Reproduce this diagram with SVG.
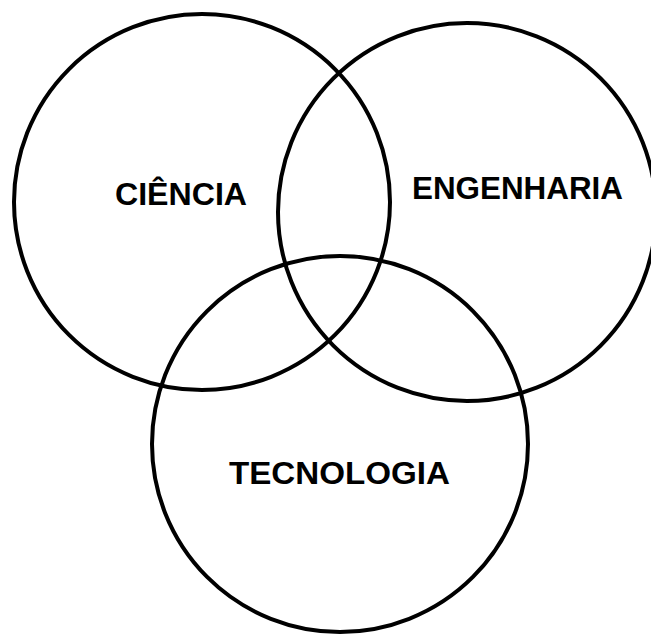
<svg xmlns="http://www.w3.org/2000/svg" width="651" height="636" viewBox="0 0 651 636">
<style>
.c{fill:none;stroke:#000;stroke-width:4}
.t{font-family:"Liberation Sans",Arial,sans-serif;font-weight:bold;font-size:31px;fill:#000}
</style>
<rect width="651" height="636" fill="#fff"/>
<g id="ciencia"><circle class="c" cx="202" cy="202" r="188"/><text class="t" x="115" y="205" textLength="132" lengthAdjust="spacingAndGlyphs">CIÊNCIA</text></g>
<g id="engenharia"><circle class="c" cx="467" cy="212" r="189"/><text class="t" x="412" y="199" textLength="211" lengthAdjust="spacingAndGlyphs">ENGENHARIA</text></g>
<g id="tecnologia"><circle class="c" cx="340" cy="444" r="188"/><text class="t" x="229" y="484" textLength="221" lengthAdjust="spacingAndGlyphs">TECNOLOGIA</text></g>
<g id="connectors"></g>
</svg>
